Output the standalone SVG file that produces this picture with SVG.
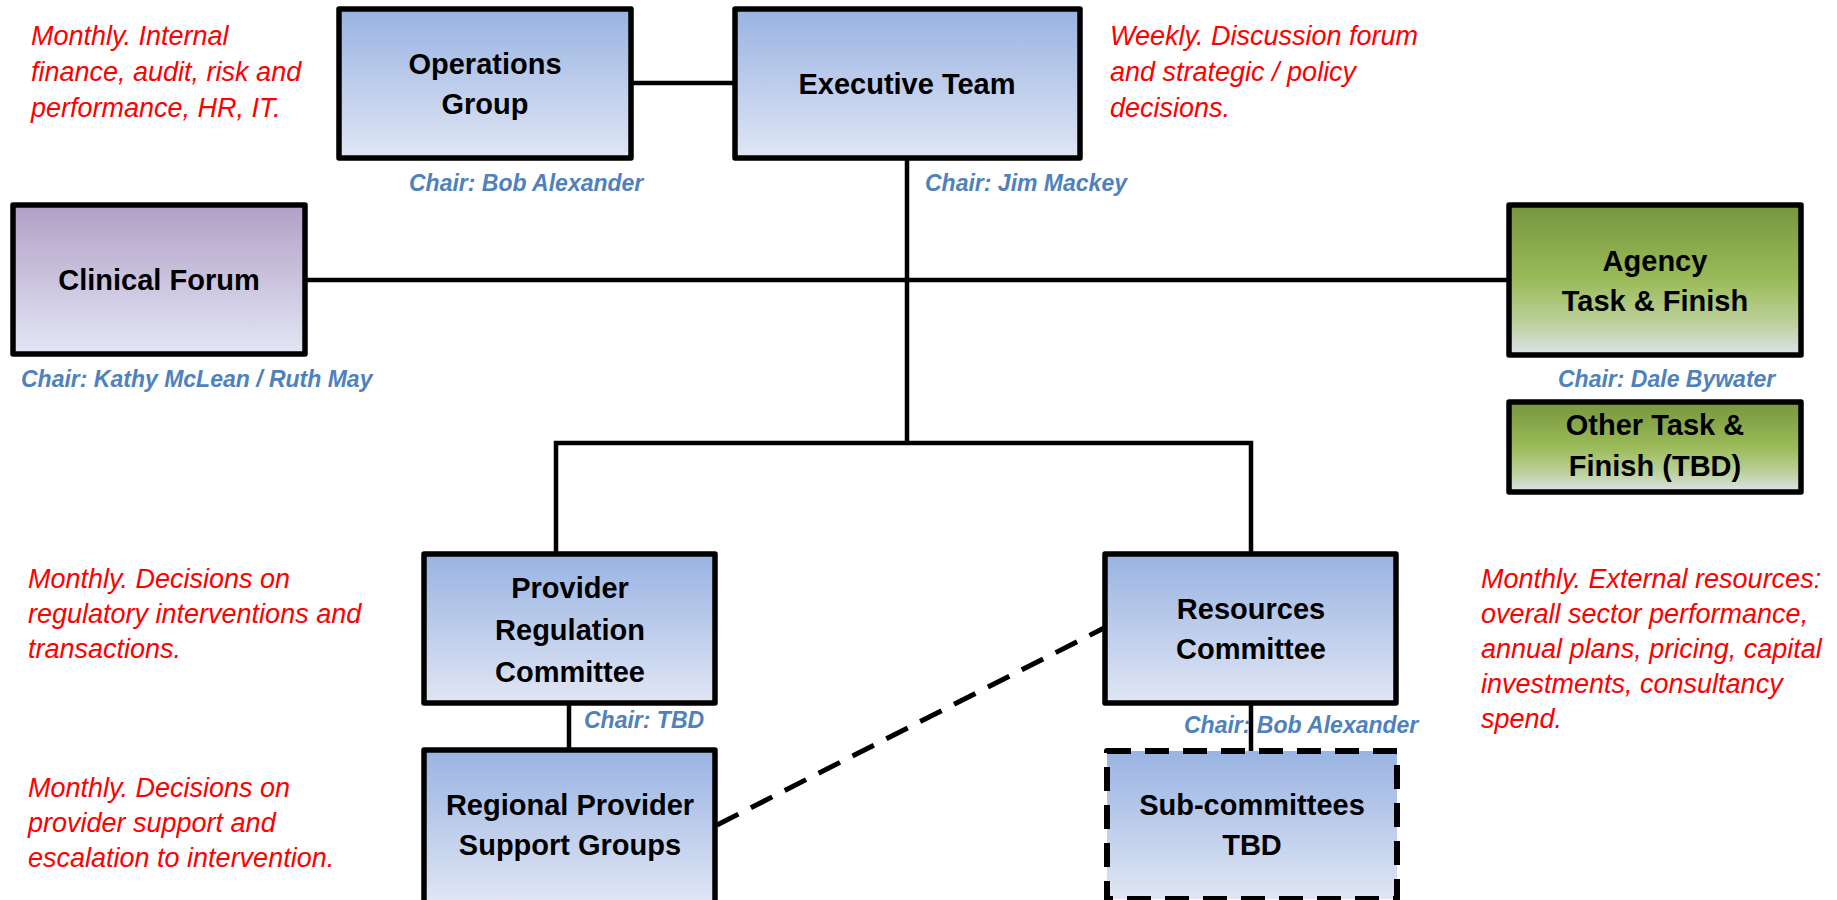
<svg xmlns="http://www.w3.org/2000/svg" width="1837" height="900" viewBox="0 0 1837 900">
  <defs>
    <linearGradient id="gBlue" x1="0" y1="0" x2="0" y2="1">
      <stop offset="0" stop-color="#99B3E2"/>
      <stop offset="1" stop-color="#E0E6F4"/>
    </linearGradient>
    <linearGradient id="gPurple" x1="0" y1="0" x2="0" y2="1">
      <stop offset="0" stop-color="#B2A0C6"/>
      <stop offset="1" stop-color="#E3E6F4"/>
    </linearGradient>
    <linearGradient id="gGreen" x1="0" y1="0" x2="0" y2="1">
      <stop offset="0" stop-color="#77953E"/>
      <stop offset="0.5" stop-color="#9BBB59"/>
      <stop offset="0.78" stop-color="#BCD09A"/>
      <stop offset="1" stop-color="#DCE3EA"/>
    </linearGradient>
    <style>
      .box { stroke: #000; stroke-width: 5.5; stroke-linejoin: round; }
      .dash { stroke-dasharray: 24 14; stroke-width: 6; }
      .lbl { font-family: "Liberation Sans", Arial, sans-serif; font-weight: bold; font-size: 29px; fill: #000; text-anchor: middle; }
      .note { font-family: "Liberation Sans", Arial, sans-serif; font-style: italic; font-size: 27px; fill: #FF0000; }
      .chair { font-family: "Liberation Sans", Arial, sans-serif; font-style: italic; font-weight: bold; font-size: 23px; fill: #4F81BD; }
      .wire { stroke: #000; stroke-width: 4.5; fill: none; }
      .wire-dash { stroke: #000; stroke-width: 5; fill: none; stroke-dasharray: 24 14; }
    </style>
  </defs>

  <rect width="1837" height="900" fill="#FFFFFF"/>

  <!-- connectors -->
  <g id="connectors">
    <line class="wire" x1="633" y1="83" x2="735" y2="83"/>
    <line class="wire" x1="907" y1="159" x2="907" y2="445"/>
    <line class="wire" x1="305" y1="280" x2="1509" y2="280"/>
    <polyline class="wire" points="556,554 556,443 1251,443 1251,554"/>
    <line class="wire" x1="569" y1="703" x2="569" y2="750"/>
    <line class="wire" x1="1251" y1="703" x2="1251" y2="751"/>
    <line class="wire-dash" x1="717" y1="825" x2="1104" y2="628"/>
  </g>

  <!-- boxes -->
  <g id="operations-group">
    <rect class="box" x="339" y="9" width="292" height="149" fill="url(#gBlue)"/>
    <text class="lbl" x="485" y="74">Operations</text>
    <text class="lbl" x="485" y="114">Group</text>
  </g>

  <g id="executive-team">
    <rect class="box" x="735" y="9" width="345" height="149" fill="url(#gBlue)"/>
    <text class="lbl" x="907" y="94">Executive Team</text>
  </g>

  <g id="clinical-forum">
    <rect class="box" x="13" y="205" width="292" height="149" fill="url(#gPurple)"/>
    <text class="lbl" x="159" y="290">Clinical Forum</text>
  </g>

  <g id="agency-task-finish">
    <rect class="box" x="1509" y="205" width="292" height="150" fill="url(#gGreen)"/>
    <text class="lbl" x="1655" y="271">Agency</text>
    <text class="lbl" x="1655" y="311">Task &amp; Finish</text>
  </g>

  <g id="other-task-finish">
    <rect class="box" x="1509" y="402" width="292" height="90" fill="url(#gGreen)"/>
    <text class="lbl" x="1655" y="435">Other Task &amp;</text>
    <text class="lbl" x="1655" y="476">Finish (TBD)</text>
  </g>

  <g id="provider-regulation-committee">
    <rect class="box" x="424" y="554" width="291" height="149" fill="url(#gBlue)"/>
    <text class="lbl" x="570" y="598">Provider</text>
    <text class="lbl" x="570" y="640">Regulation</text>
    <text class="lbl" x="570" y="682">Committee</text>
  </g>

  <g id="resources-committee">
    <rect class="box" x="1105" y="554" width="291" height="149" fill="url(#gBlue)"/>
    <text class="lbl" x="1251" y="619">Resources</text>
    <text class="lbl" x="1251" y="659">Committee</text>
  </g>

  <g id="regional-provider-support-groups">
    <rect class="box" x="424" y="750" width="291" height="153" fill="url(#gBlue)"/>
    <text class="lbl" x="570" y="815">Regional Provider</text>
    <text class="lbl" x="570" y="855">Support Groups</text>
  </g>

  <g id="sub-committees">
    <rect class="box dash" x="1107" y="751" width="290" height="148" fill="url(#gBlue)"/>
    <text class="lbl" x="1252" y="815">Sub-committees</text>
    <text class="lbl" x="1252" y="855">TBD</text>
  </g>

  <!-- chair labels -->
  <g id="chairs">
    <text class="chair" x="409" y="191">Chair: Bob Alexander</text>
    <text class="chair" x="925" y="191">Chair: Jim Mackey</text>
    <text class="chair" x="21" y="387">Chair: Kathy McLean / Ruth May</text>
    <text class="chair" x="1558" y="387">Chair: Dale Bywater</text>
    <text class="chair" x="584" y="728">Chair: TBD</text>
    <text class="chair" x="1184" y="733">Chair: Bob Alexander</text>
  </g>

  <!-- meeting notes -->
  <g id="notes">
    <text class="note" x="31" y="45">Monthly. Internal</text>
    <text class="note" x="31" y="81">finance, audit, risk and</text>
    <text class="note" x="31" y="117">performance, HR, IT.</text>

    <text class="note" x="1110" y="45">Weekly. Discussion forum</text>
    <text class="note" x="1110" y="81">and strategic / policy</text>
    <text class="note" x="1110" y="117">decisions.</text>

    <text class="note" x="28" y="588">Monthly. Decisions on</text>
    <text class="note" x="28" y="623">regulatory interventions and</text>
    <text class="note" x="28" y="658">transactions.</text>

    <text class="note" x="28" y="797">Monthly. Decisions on</text>
    <text class="note" x="28" y="832">provider support and</text>
    <text class="note" x="28" y="867">escalation to intervention.</text>

    <text class="note" x="1481" y="588">Monthly. External resources:</text>
    <text class="note" x="1481" y="623">overall sector performance,</text>
    <text class="note" x="1481" y="658">annual plans, pricing, capital</text>
    <text class="note" x="1481" y="693">investments, consultancy</text>
    <text class="note" x="1481" y="728">spend.</text>
  </g>
</svg>
